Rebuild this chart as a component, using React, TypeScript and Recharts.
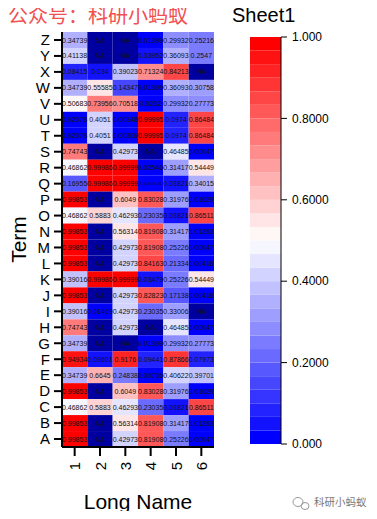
import React from "react";
import {
  BarChart,
  Bar,
  Cell,
  XAxis,
  YAxis,
  LabelList,
} from "recharts";

const TERMS = ["Z", "Y", "X", "W", "V", "U", "T", "S", "R", "Q", "P", "O", "N", "M", "L", "K", "J", "I", "H", "G", "F", "E", "D", "C", "B", "A"];

// columns "1".."6", rows ordered Z -> A, null = NA
const COL1 = [0.34739, 0.41138, 0.08415, 0.34739, 0.50683, 0.02078, 0.02078, 0.74743, 0.46862, 0.16955, 0.99853, 0.46862, 0.99853, 0.99853, 0.99853, 0.39016, 0.99853, 0.39016, 0.74743, 0.34739, 0.94934, 0.34739, 0.99853, 0.46862, 0.99853, 0.99853];
const COL2 = [null, null, 0.034, 0.55585, 0.73956, 0.4051, 0.4051, null, 0.99986, 0.99986, null, 0.5883, null, null, null, 0.99986, null, 0.01469, null, null, 0.03601, 0.6645, null, 0.5883, null, null];
const COL3 = [null, null, 0.39023, 0.14347, 0.70518, 0.00348, 0.00306, 0.42973, 0.99999, 0.99999, 0.6049, 0.46293, 0.56314, 0.42973, 0.42973, 0.99999, 0.42973, 0.42973, 0.42973, null, 0.9176, 0.24838, 0.6049, 0.46293, 0.56314, 0.42973];
const COL4 = [0.01399, 0.03952, 0.71324, 0.01399, 0.0232, 0.99995, 0.99995, null, 0.02546, 7.5061e-5, 0.83028, 0.23035, 0.81908, 0.81908, 0.84163, 0.03479, 0.82823, 0.23035, null, 0.01399, 0.09441, 0.00736, 0.83028, 0.23035, 0.81908, 0.81908];
const COL5 = [0.29932, 0.36093, 0.84213, 0.36093, 0.29932, 0.0974, 0.0974, 0.46485, 0.31417, 0.03821, 0.31976, 0.03821, 0.31417, 0.25226, 0.21334, 0.25226, 0.17138, 0.33006, 0.46485, 0.29932, 0.87866, 0.40622, 0.31976, 0.03821, 0.31417, 0.25226];
const COL6 = [0.25216, 0.2547, null, 0.30758, 0.27773, 0.86484, 0.86484, 0.00947, 0.54449, 0.34015, 0.01629, 0.86511, 0.01293, 0.00947, 0.00418, 0.54449, 0.00418, null, 0.00947, 0.27773, 0.07973, 0.39701, 0.01629, 0.86511, 0.01293, 0.00947];

const COLUMNS = [COL1, COL2, COL3, COL4, COL5, COL6];
const X_LABELS = ["1", "2", "3", "4", "5", "6"];
const SCALE_TICKS = [0, 0.2, 0.4, 0.6, 0.8, 1];

const LEVELS = 30;
const NA_COLOR = "#0000A0";
const FONT = "'Liberation Sans', Arial, sans-serif";

function levelColor(i: number) {
  const half = LEVELS / 2;
  if (i < half) {
    const c = Math.round((255 * i) / (half - 0.5));
    return `rgb(${c},${c},255)`;
  }
  const c = Math.round((255 * (LEVELS - 1 - i)) / (half - 0.5));
  return `rgb(255,${c},${c})`;
}

function heatColor(v: number | null) {
  if (v === null) return NA_COLOR;
  return levelColor(Math.min(LEVELS - 1, Math.floor(v * LEVELS)));
}

function fmt(v: number | null) {
  if (v === null) return "NA";
  if (v < 1e-4) {
    const [m, e] = v.toExponential(4).split("e");
    const n = Math.abs(parseInt(e, 10));
    return `${m}E${e.startsWith("-") ? "-" : "+"}${n < 10 ? "0" + n : n}`;
  }
  return String(v);
}

const rows = TERMS.map((term, r) => {
  const row: Record<string, any> = { term };
  COLUMNS.forEach((col, c) => {
    row[`w${c}`] = 1;
    row[`l${c}`] = fmt(col[r]);
  });
  return row;
});

const bandRow: Record<string, any> = { name: "Sheet1" };
for (let i = 0; i < LEVELS; i++) bandRow[`b${i}`] = 1 / LEVELS;
const bandData = [bandRow];

const XTick = (props: any) => {
  const { x, y, payload } = props;
  const label = X_LABELS[Math.round(payload.value - 0.5)];
  return (
    <text
      x={x}
      y={y}
      transform={`rotate(-90 ${x} ${y})`}
      textAnchor="end"
      dominantBaseline="central"
      fontSize={15}
      fontFamily={FONT}
      fill="#000"
    >
      {label}
    </text>
  );
};

const cellLabel = (props: any) => {
  const { x, y, width, height, value } = props;
  // long exponent strings get squeezed so they stay inside the cell
  const size = String(value).length > 8 ? 4.3 : 7;
  return (
    <text
      x={x + width / 2}
      y={y + height / 2}
      textAnchor="middle"
      dominantBaseline="central"
      fontSize={size}
      fontFamily={FONT}
      fill="#111"
    >
      {value}
    </text>
  );
};

export default function App() {
  return (
    <div
      style={{
        position: "relative",
        margin: -8,
        width: 377,
        height: 519,
        background: "#fff",
        boxShadow: "inset 0 0 0 3px #f0f0f0",
      }}
    >
      <div style={{ position: "absolute", left: 0, top: 0 }}>
        <BarChart
          width={377}
          height={519}
          data={rows}
          layout="vertical"
          margin={{ top: 32, right: 163, bottom: 0, left: 0 }}
          barCategoryGap={0}
        >
          <XAxis
            type="number"
            domain={[0, 6]}
            ticks={[0.5, 1.5, 2.5, 3.5, 4.5, 5.5]}
            tick={<XTick />}
            tickSize={9}
            tickMargin={6}
            height={72}
            axisLine={{ stroke: "#000", strokeWidth: 2 }}
            tickLine={{ stroke: "#000", strokeWidth: 2 }}
            label={{
              content: (p: any) => {
                const vb = p.viewBox;
                return (
                  <text
                    x={vb.x + vb.width / 2}
                    y={vb.y + 62}
                    textAnchor="middle"
                    fontSize={21}
                    fontFamily={FONT}
                    fill="#000"
                  >
                    Long Name
                  </text>
                );
              },
            }}
          />
          <XAxis
            xAxisId="top"
            orientation="top"
            type="number"
            domain={[0, 6]}
            tick={false}
            tickLine={false}
            height={0}
            axisLine={{ stroke: "#000", strokeWidth: 2 }}
          />
          <YAxis
            type="category"
            dataKey="term"
            width={62}
            interval={0}
            tickSize={8}
            tickMargin={4}
            tick={{ fontSize: 15, fill: "#000", fontFamily: FONT }}
            axisLine={{ stroke: "#000", strokeWidth: 2 }}
            tickLine={{ stroke: "#000", strokeWidth: 2 }}
            label={{
              content: (p: any) => {
                const vb = p.viewBox;
                const cx = vb.x + 18;
                const cy = vb.y + vb.height / 2;
                return (
                  <text
                    x={cx}
                    y={cy}
                    transform={`rotate(-90 ${cx} ${cy})`}
                    textAnchor="middle"
                    dominantBaseline="central"
                    fontSize={21}
                    fontFamily={FONT}
                    fill="#000"
                  >
                    Term
                  </text>
                );
              },
            }}
          />
          <YAxis
            yAxisId="right"
            orientation="right"
            type="number"
            domain={[0, 1]}
            tick={false}
            tickLine={false}
            width={0}
            axisLine={{ stroke: "#000", strokeWidth: 2 }}
          />
          {COLUMNS.map((col, c) => (
            <Bar
              key={c}
              dataKey={`w${c}`}
              stackId="h"
              isAnimationActive={false}
            >
              {col.map((v, r) => (
                <Cell key={r} fill={heatColor(v)} />
              ))}
              <LabelList dataKey={`l${c}`} content={cellLabel} />
            </Bar>
          ))}
        </BarChart>
      </div>

      <div style={{ position: "absolute", left: 220, top: 0 }}>
        <BarChart
          width={157}
          height={519}
          data={bandData}
          margin={{ top: 37, right: 0, bottom: 75, left: 30 }}
          barCategoryGap={0}
        >
          <XAxis
            dataKey="name"
            tick={false}
            tickLine={false}
            height={0}
            axisLine={{ stroke: "#000", strokeWidth: 1 }}
          />
          <XAxis
            xAxisId="top"
            orientation="top"
            dataKey="name"
            tick={false}
            tickLine={false}
            height={0}
            axisLine={{ stroke: "#000", strokeWidth: 1 }}
          />
          <YAxis
            yAxisId="left"
            orientation="left"
            type="number"
            domain={[0, 1]}
            tick={false}
            tickLine={false}
            width={0}
            axisLine={{ stroke: "#000", strokeWidth: 1 }}
          />
          <YAxis
            orientation="right"
            type="number"
            domain={[0, 1]}
            ticks={SCALE_TICKS}
            interval={0}
            width={96}
            tickSize={6}
            tickMargin={5}
            tickFormatter={(v: number) =>
              v === 0 || v === 1 ? v.toFixed(3) : v.toFixed(4)
            }
            tick={{ fontSize: 12, fill: "#000", fontFamily: FONT, textAnchor: "start" }}
            axisLine={{ stroke: "#000", strokeWidth: 1 }}
            tickLine={{ stroke: "#000", strokeWidth: 1 }}
          />
          {Array.from({ length: LEVELS }, (_, i) => (
            <Bar
              key={i}
              dataKey={`b${i}`}
              stackId="s"
              fill={levelColor(i)}
              isAnimationActive={false}
            />
          ))}
        </BarChart>
      </div>

      <svg
        width={377}
        height={519}
        style={{ position: "absolute", left: 0, top: 0, pointerEvents: "none" }}
      >
        <text
          x={8}
          y={23}
          fontSize={20}
          fontFamily="'Noto Sans CJK SC', sans-serif"
          fill="#F25050"
        >
          公众号：科研小蚂蚁
        </text>
        <text x={232} y={22} fontSize={20} fontFamily={FONT} fill="#000">
          Sheet1
        </text>
        <g stroke="#999" fill="none" strokeWidth={1}>
          <ellipse cx={298} cy={502} rx={5} ry={4.5} />
          <ellipse cx={305} cy={506} rx={4} ry={3.5} />
        </g>
        <text
          x={314}
          y={506}
          fontSize={10.5}
          fontFamily="'Noto Sans CJK SC', sans-serif"
          fill="#777"
        >
          科研小蚂蚁
        </text>
      </svg>
    </div>
  );
}
